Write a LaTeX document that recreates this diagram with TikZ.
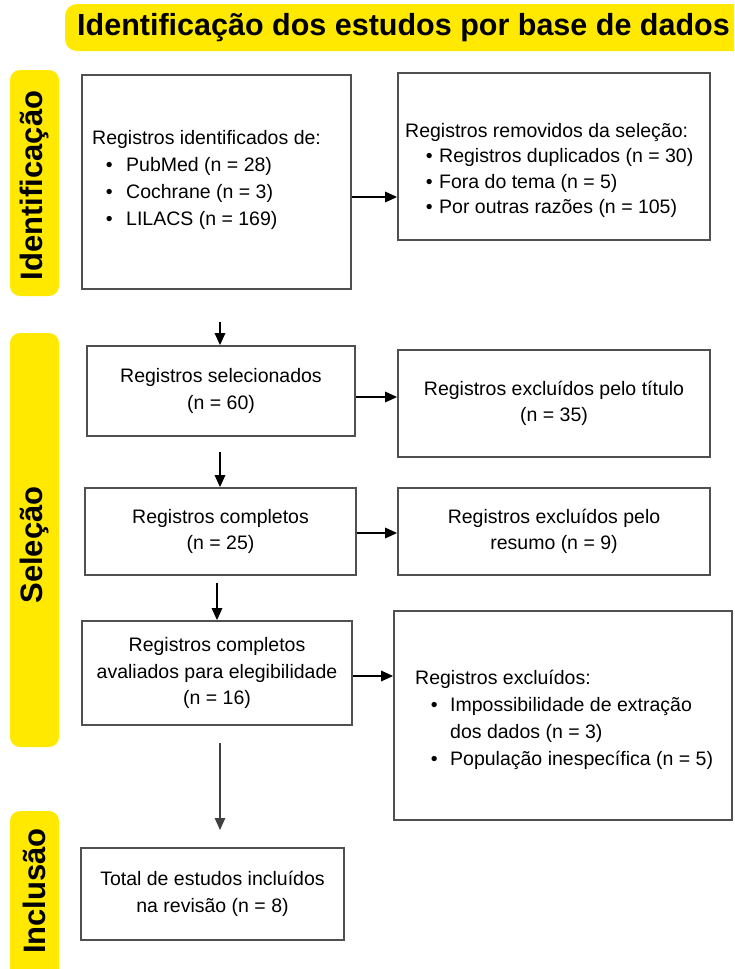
\documentclass[tikz,border=0pt]{standalone}
\usepackage{fontspec}
\setmainfont{Liberation Sans}
\usetikzlibrary{arrows.meta}
\definecolor{ylw}{RGB}{255,233,0}
\definecolor{boxgray}{RGB}{80,80,80}
\begin{document}
\begin{tikzpicture}[x=1pt,y=-1pt,
  box/.style={draw=boxgray, line width=1.8pt, inner sep=0pt, align=center, font=\fontsize{19.5}{26.5}\selectfont},
  listtxt/.style={inner sep=0pt, align=left, anchor=north west},
  arr/.style={line width=1.6pt, -{Triangle[length=12pt,width=10.5pt]}},
  lbl/.style={font=\fontsize{31}{36}\bfseries\selectfont, rotate=90, inner sep=0pt},
  barfill/.style={fill=ylw, rounded corners=10pt}
]
\useasboundingbox (0,0) rectangle (734,969);
\fill[white] (0,0) rectangle (734,969);

% title banner
\begin{scope}
\clip (0,0) rectangle (734,969);
\fill[barfill, rounded corners=12pt] (65,4) rectangle (770,51);
\fill[barfill] (10,811) rectangle (59,1000);
\end{scope}
\node[font=\fontsize{30.5}{36}\bfseries\selectfont, inner sep=0pt] (title) at (403.5,28) {Identificação dos estudos por base de dados};

% side bars
\fill[barfill] (10,70) rectangle (59,296);
\fill[barfill] (10,333) rectangle (59,747);
\node[lbl] (l1) at (34.5,185.5) {Identificação};
\node[lbl] (l2) at (34.5,545) {Seleção};
\node[lbl] (l3) at (34.5,891) {Inclusão};

% boxes
\node[box, minimum width=269pt, minimum height=214pt] (b1) at (216.5,182) {};
\node[listtxt, font=\fontsize{19.5}{27}\selectfont] (t1) at (92,130) {Registros identificados de:\\
\hspace*{12pt}\makebox[10pt]{\textbullet}\hspace*{12pt}PubMed (n = 28)\\
\hspace*{12pt}\makebox[10pt]{\textbullet}\hspace*{12pt}Cochrane (n = 3)\\
\hspace*{12pt}\makebox[10pt]{\textbullet}\hspace*{12pt}LILACS (n = 169)};

\node[box, minimum width=312pt, minimum height=167pt] (b2) at (554,156.5) {};
\node[listtxt, font=\fontsize{19.5}{25.5}\selectfont] (t2) at (405,123) {Registros removidos da seleção:\\
\hspace*{19pt}\makebox[10pt]{\textbullet}\hspace*{5pt}Registros duplicados (n = 30)\\
\hspace*{19pt}\makebox[10pt]{\textbullet}\hspace*{5pt}Fora do tema (n = 5)\\
\hspace*{19pt}\makebox[10pt]{\textbullet}\hspace*{5pt}Por outras razões (n = 105)};

\node[box, minimum width=268pt, minimum height=90pt] (b3) at (221,391) {Registros selecionados\\(n = 60)};
\node[box, minimum width=312pt, minimum height=107pt] (b4) at (554,403.5) {Registros excluídos pelo título\\(n = 35)};
\node[box, minimum width=271pt, minimum height=87pt] (b5) at (220.5,531.5) {Registros completos\\(n = 25)};
\node[box, minimum width=312pt, minimum height=87pt] (b6) at (554,531.5) {Registros excluídos pelo\\resumo (n = 9)};
\node[box, minimum width=270pt, minimum height=104pt] (b7) at (217,673) {Registros completos\\avaliados para elegibilidade\\(n = 16)};

\node[box, minimum width=338pt, minimum height=209pt] (b8) at (563,715.5) {};
\node[listtxt, font=\fontsize{19.5}{27}\selectfont] (t8) at (415,670) {Registros excluídos:\\
\hspace*{14pt}\makebox[10pt]{\textbullet}\hspace*{11pt}Impossibilidade de extração\\
\hspace*{35pt}dos dados (n = 3)\\
\hspace*{14pt}\makebox[10pt]{\textbullet}\hspace*{11pt}População inespecífica (n = 5)};

\node[box, minimum width=263pt, minimum height=92pt] (b9) at (212.5,894) {Total de estudos incluídos\\na revisão (n = 8)};

% connectors
\draw[arr] (b1.east |- 0,197) -- (b2.west |- 0,197);
\coordinate (s2) at (220,322);
\draw[arr] (s2) -- (s2 |- b3.north);
\draw[arr] (b3.east |- 0,397) -- (b4.west |- 0,397);
\coordinate (s4) at (220,452);
\draw[arr] (s4) -- (s4 |- b5.north);
\draw[arr] (b5.east |- 0,533) -- (b6.west |- 0,533);
\coordinate (s6) at (217,583);
\draw[arr] (s6) -- (s6 |- b7.north);
\draw[arr] (b7.east |- 0,676) -- (b8.west |- 0,676);
\coordinate (s8) at (220,743);
\coordinate (e8) at (220,830);
\draw[arr, line width=1.2pt, draw=black!75, fill=black] (s8) -- (e8);
\end{tikzpicture}
\end{document}
